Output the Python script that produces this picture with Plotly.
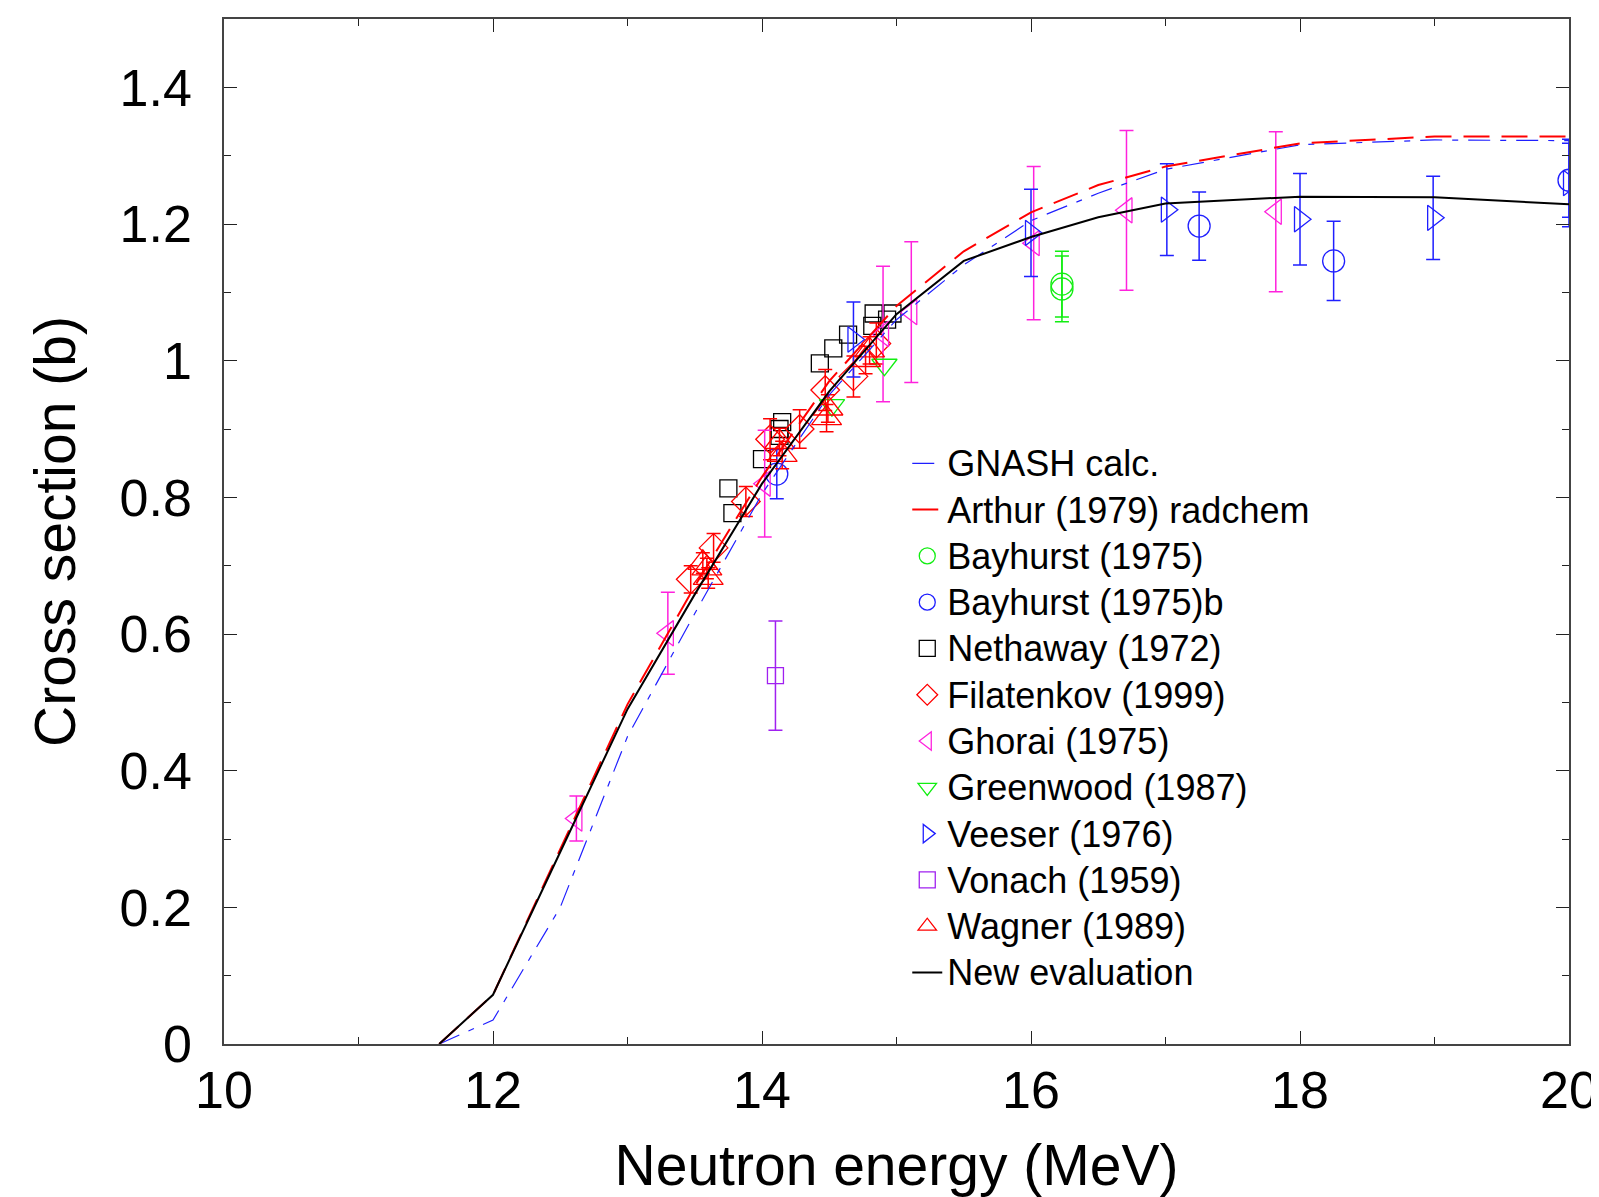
import plotly.graph_objects as go

# ---------------- data ----------------
curve_e = [11.6, 12.0, 12.5, 13.0, 13.5, 14.0, 14.5, 15.0, 15.5, 16.0, 16.5, 17.0, 18.0, 19.0, 20.0]
gnash = [0.0, 0.035, 0.20, 0.45, 0.63, 0.805, 0.95, 1.06, 1.14, 1.205, 1.245, 1.28, 1.316, 1.323, 1.322]
arthur = [0.0, 0.072, 0.285, 0.497, 0.67, 0.83, 0.97, 1.08, 1.16, 1.217, 1.257, 1.284, 1.318, 1.328, 1.328]
new_eval = [0.0, 0.072, 0.281, 0.49, 0.658, 0.82, 0.955, 1.068, 1.146, 1.181, 1.21, 1.23, 1.24, 1.239, 1.229]

bay_e = [16.23, 16.23]
bay_s = [1.112, 1.105]
bay_d = [0.048, 0.048]

bayb_e = [14.11, 17.25, 18.25, 20.0]
bayb_s = [0.834, 1.197, 1.146, 1.264]
bayb_d = [0.036, 0.05, 0.058, 0.054]

neth_e = [13.75, 13.78, 14.0, 14.15, 14.13, 14.13, 14.43, 14.53, 14.64, 14.82, 14.83, 14.93, 14.97]
neth_s = [0.813, 0.777, 0.856, 0.910, 0.900, 0.890, 0.996, 1.018, 1.038, 1.051, 1.069, 1.06, 1.069]

fila_e = [13.47, 13.64, 13.88, 14.06, 14.28, 14.47, 14.68, 14.85]
fila_s = [0.680, 0.726, 0.794, 0.885, 0.900, 0.957, 0.977, 1.025]
fila_d = [0.02, 0.021, 0.022, 0.03, 0.028, 0.03, 0.03, 0.03]

ghor_e = [12.62, 13.30, 14.02, 14.90, 15.11, 16.02, 16.71, 17.82]
ghor_s = [0.330, 0.601, 0.820, 1.039, 1.071, 1.172, 1.220, 1.218]
ghor_d = [0.033, 0.06, 0.078, 0.099, 0.103, 0.112, 0.117, 0.117]

green_e = [14.52, 14.91]
green_s = [0.935, 0.994]

vees_e = [14.68, 16.0, 17.01, 18.0, 18.99, 20.0]
vees_s = [1.031, 1.187, 1.221, 1.207, 1.209, 1.26]
vees_d = [0.055, 0.064, 0.067, 0.067, 0.061, 0.064]

vona_e = [14.10]
vona_s = [0.539]
vona_d = [0.08]

wagn_e = [13.56, 13.59, 13.60, 14.13, 14.15, 14.48, 14.49, 14.77, 14.80]
wagn_s = [0.704, 0.696, 0.682, 0.881, 0.862, 0.916, 0.930, 1.001, 1.015]
wagn_d = [0.015, 0.015, 0.015, 0.02, 0.02, 0.02, 0.02, 0.02, 0.02]

x_ticks = [10, 12, 14, 16, 18, 20]
y_ticks = [0, 0.2, 0.4, 0.6, 0.8, 1.0, 1.2, 1.4]

# ---------------- colours ----------------
BLUE = "#1f1fff"
RED = "#ff0000"
GREEN = "#11ee11"
MAG = "#ff22dd"
PURP = "#a020f0"
FONT = "Liberation Sans, Arial, sans-serif"

fig = go.Figure()


def lname(t):
    return '<span style="font-size:36px">' + t + '</span>'


def pts(name, xs, ys, err, sym, color, size, rank):
    kw = {}
    if err is not None:
        kw["error_y"] = dict(type="data", array=err, visible=True, color=color,
                             thickness=1.5, width=7)
    fig.add_trace(go.Scatter(x=xs, y=ys, mode="markers", name=lname(name),
                             marker=dict(symbol=sym, size=size, color=color,
                                         line=dict(width=1.3, color=color)),
                             legendrank=rank, **kw))


pts("Bayhurst (1975)", bay_e, bay_s, bay_d, "circle-open", GREEN, 22, 3)
pts("Bayhurst (1975)b", bayb_e, bayb_s, bayb_d, "circle-open", BLUE, 22, 4)
pts("Nethaway (1972)", neth_e, neth_s, None, "square-open", "black", 17, 5)
pts("Filatenkov (1999)", fila_e, fila_s, fila_d, "diamond-open", RED, 22, 6)
pts("Ghorai (1975)", ghor_e, ghor_s, ghor_d, "triangle-left-open", MAG, 22, 7)
pts("Greenwood (1987)", green_e, green_s, None, "triangle-down-open", GREEN, 22, 8)
pts("Veeser (1976)", vees_e, vees_s, vees_d, "triangle-right-open", BLUE, 22, 9)
pts("Vonach (1959)", vona_e, vona_s, vona_d, "square-open", PURP, 16, 10)
pts("Wagner (1989)", wagn_e, wagn_s, wagn_d, "triangle-up-open", RED, 26, 11)

fig.add_trace(go.Scatter(x=curve_e, y=gnash, mode="lines", name=lname("GNASH calc."),
                         line=dict(color=BLUE, width=1.2, dash="22px,10px,6px,10px"),
                         legendrank=1))
fig.add_trace(go.Scatter(x=curve_e, y=arthur, mode="lines", name=lname("Arthur (1979) radchem"),
                         line=dict(color=RED, width=2, dash="26px,12px"),
                         legendrank=2))
fig.add_trace(go.Scatter(x=curve_e, y=new_eval, mode="lines", name=lname("New evaluation"),
                         line=dict(color="black", width=2),
                         legendrank=12))

axis_common = dict(
    showline=True, linecolor="#444", linewidth=1.5, mirror="ticks",
    ticks="inside", ticklen=13, tickwidth=1.2, tickcolor="#222",
    showgrid=False, zeroline=False,
    tickfont=dict(family=FONT, size=52, color="black"),
)

fig.update_xaxes(range=[10, 20], tickvals=x_ticks,
                 minor=dict(dtick=1, ticks="inside", ticklen=7, tickcolor="#222", tickwidth=1.2),
                 title=dict(text="Neutron energy (MeV)", standoff=27,
                            font=dict(family=FONT, size=57, color="black")),
                 ticklabelstandoff=0,
                 **axis_common)
fig.update_yaxes(range=[0, 1.5], tickvals=y_ticks,
                 minor=dict(dtick=0.1, ticks="inside", ticklen=7, tickcolor="#222", tickwidth=1.2),
                 title=dict(text="Cross section (b)", standoff=26,
                            font=dict(family=FONT, size=57, color="black")),
                 ticklabelstandoff=20,
                 **axis_common)

# page body has an 8px margin: figure is offset by 8px inside the window
fig.update_layout(
    width=1591, height=1189,
    margin=dict(l=216, r=30, t=11, b=153, autoexpand=False),
    plot_bgcolor="white", paper_bgcolor="white",
    font=dict(family=FONT, color="black"),
    showlegend=True,
    legend=dict(x=0.508, y=0.594, xanchor="left", yanchor="top",
                bgcolor="rgba(0,0,0,0)", borderwidth=0,
                font=dict(size=33.3, color="black"),
                itemsizing="trace", tracegroupgap=0),
)

fig.write_html("out.html")
